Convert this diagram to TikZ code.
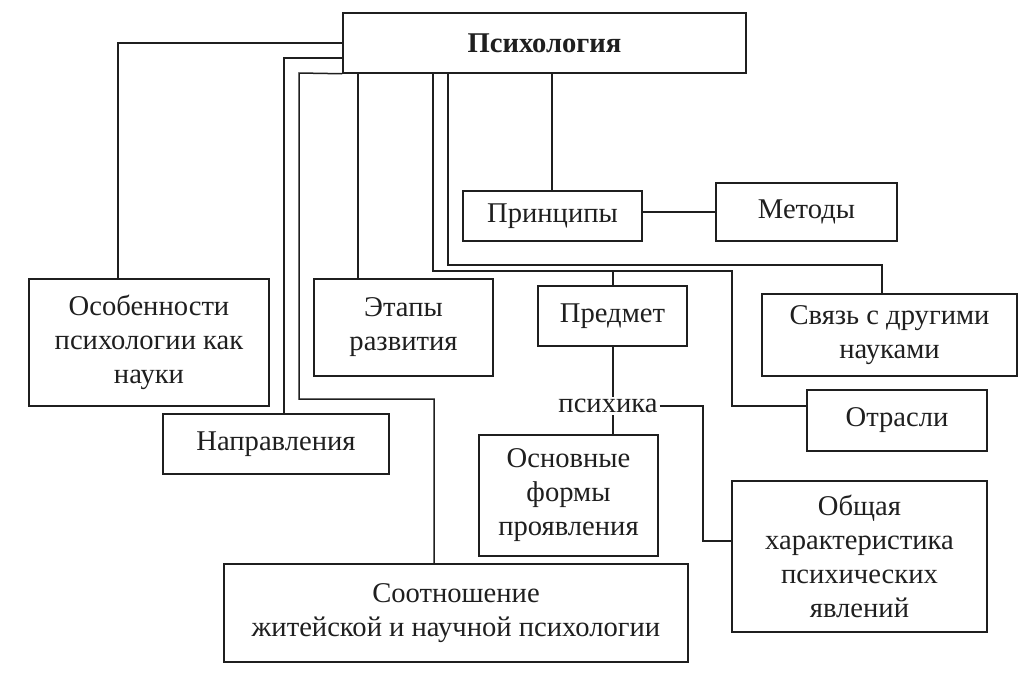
\documentclass[tikz,border=0pt]{standalone}
\usepackage{fontspec}
\setmainfont{Liberation Serif}
\definecolor{ink}{gray}{0.12}
\begin{document}
\begin{tikzpicture}[x=1pt,y=-1pt,
  box/.style={draw=ink,line width=1.5pt,text=ink,align=center,inner sep=0pt,
    font=\fontsize{28.6}{34}\selectfont},
  conn/.style={draw=ink,line width=1.5pt},
  lbl/.style={text=ink,inner sep=2pt,font=\fontsize{28.6}{34}\selectfont}]
\useasboundingbox[fill=white] (0,0) rectangle (1036,673);
% boxes
\node[box,minimum width=403pt,minimum height=60pt,font=\fontsize{28.6}{34}\selectfont\bfseries] (top) at (544.5,43) {Психология};
\node[box,minimum width=240pt,minimum height=127pt] (osob) at (149,342.5) {Особенности\\психологии как\\науки};
\node[box,minimum width=226pt,minimum height=60pt] (napr) at (276,444) {Направления};
\node[box,minimum width=179pt,minimum height=97pt] (etap) at (403.5,327.5) {Этапы\\развития};
\node[box,minimum width=149pt,minimum height=60pt] (pred) at (612.5,316) {Предмет};
\node[box,minimum width=179pt,minimum height=50pt] (print) at (552.5,216) {Принципы};
\node[box,minimum width=181pt,minimum height=58pt] (metod) at (806.5,212) {Методы};
\node[box,minimum width=255pt,minimum height=82pt] (svyaz) at (889.5,335) {Связь с другими\\науками};
\node[box,minimum width=180pt,minimum height=61pt] (otr) at (897,420.5) {Отрасли};
\node[box,minimum width=179pt,minimum height=121pt] (osn) at (568.5,495.5) {Основные\\формы\\проявления};
\node[box,minimum width=255pt,minimum height=151pt] (obsh) at (859.5,556.5) {Общая\\характеристика\\психических\\явлений};
\node[box,minimum width=464pt,minimum height=98pt] (sootn) at (456,613) {Соотношение\\житейской и научной психологии};
\node[lbl] (psy) at (608,406) {психика};
% helper coordinates
\coordinate (a1) at (118,43);
\coordinate (b1) at (284,58);
\coordinate (c0) at (299,73);
\coordinate (c1) at (299,399);
\coordinate (c2) at (434,399);
\coordinate (d1) at (358,73);
\coordinate (e1) at (433,271);
\coordinate (e2) at (732,406);
\coordinate (f1) at (448,265);
\coordinate (f2) at (882,265);
\coordinate (g1) at (552,73);
\coordinate (p1) at (613,271);
\coordinate (j1) at (703,541);
% connectors
\draw[conn] (top.west) -- (a1) -- (a1 |- osob.north);
\draw[conn] (b1 -| top.west) -- (b1) -- (b1 |- napr.north);
\draw[conn] (top.south west) -- (c0) -- (c1) -- (c2) -- (c2 |- sootn.north);
\draw[conn] (d1) -- (d1 |- etap.north);
\draw[conn] (e1 |- top.south) -- (e1) -| (e2) -- (e2 -| otr.west);
\draw[conn] (p1) -- (p1 |- pred.north);
\draw[conn] (f1 |- top.south) -- (f1) -- (f2) -- (f2 |- svyaz.north);
\draw[conn] (g1) -- (g1 |- print.north);
\draw[conn] (metod.west -| print.east) -- (metod.west);
\draw[conn] (p1 |- pred.south) -- (p1 |- psy.north);
\draw[conn] (p1 |- psy.south) -- (p1 |- osn.north);
\draw[conn] (psy.east) -| (j1) -- (j1 -| obsh.west);
\end{tikzpicture}
\end{document}
